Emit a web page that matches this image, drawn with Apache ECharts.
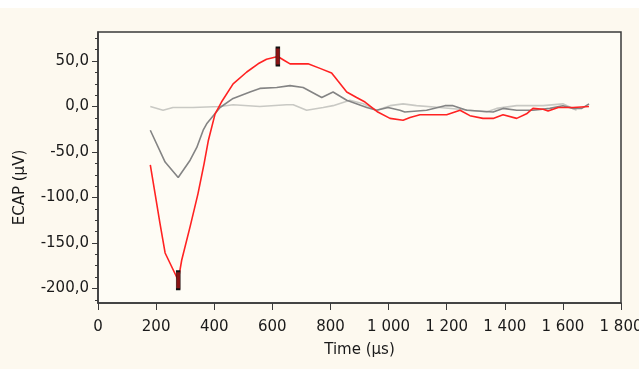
<!DOCTYPE html>
<html>
<head>
  <meta charset="utf-8" />
  <title>ECAP</title>
  <script src="https://cdn.jsdelivr.net/npm/echarts@6/dist/echarts.min.js"></script>
  <style>
    body { margin: 0; background: #ffffff; }
    #chart { position: absolute; left: 0; top: 8px; width: 639px; height: 361px; background: #fdf9ef; }
  </style>
</head>
<body>
  <div id="chart"></div>
  <script type="text/javascript">
    // Traces: [time (µs), ECAP (µV)]
    let redTrace = [[180, -64], [196, -95], [213, -128], [231, -161], [276, -191], [288, -169],
      [317, -132], [344, -96], [365, -63], [380, -37], [403, -8], [425, 5], [465, 25], [512, 38],
      [551, 47], [580, 52], [619, 55], [640, 51], [661, 47], [723, 47], [764, 42], [804, 37],
      [826, 28], [856, 16], [890, 10], [919, 5], [963, -6], [1005, -13], [1050, -15], [1074, -12],
      [1108, -9], [1200, -9], [1246, -4], [1280, -10], [1325, -13], [1360, -13], [1394, -9],
      [1441, -13], [1475, -8], [1497, -2], [1532, -3], [1549, -5], [1584, -1], [1635, -1], [1690, 0]];
    let darkTrace = [[180, -26], [231, -61], [276, -78], [317, -59], [340, -45], [362, -26],
      [374, -19], [420, -1], [465, 9], [523, 16], [557, 20], [615, 21], [661, 23], [706, 21],
      [770, 10], [809, 16], [856, 7], [925, -1], [959, -4], [998, -1], [1039, -4], [1056, -6],
      [1131, -4], [1194, 1], [1222, 1], [1269, -4], [1360, -6], [1394, -2], [1441, -4],
      [1497, -4], [1555, -2], [1600, 1], [1635, -2], [1665, -2], [1690, 3]];
    let lightTrace = [[180, 0], [224, -4], [258, -1], [327, -1], [420, 0], [465, 2], [557, 0],
      [649, 2], [672, 2], [718, -4], [775, -1], [809, 1], [867, 7], [913, 3], [959, -4],
      [1005, 1], [1050, 3], [1096, 1], [1177, -1], [1280, -4], [1337, -6], [1372, -2],
      [1441, 1], [1532, 1], [1600, 3], [1647, -4]];
    // Peak / trough markers on the red trace
    let markers = [[276, -191], [619, 55]];
    let yMajor = [-200, -150, -100, -50, 0, 50];
    let yMinor = [-212.5, -187.5, -175, -162.5, -137.5, -125, -112.5, -87.5, -75, -62.5,
      -37.5, -25, -12.5, 12.5, 25, 37.5, 62.5, 75];

    var chart = echarts.init(document.getElementById('chart'));
    var font = 'DejaVu Sans';

    var option = {
      animation: false,
      grid: {
        left: 98, top: 24, right: 18, bottom: 66,
        containLabel: false,
        outerBoundsMode: 'none',
        show: true,
        backgroundColor: '#fefcf5',
        borderColor: '#3a3a3a',
        borderWidth: 1.5
      },
      xAxis: {
        type: 'value',
        min: 0,
        max: 1800,
        interval: 200,
        name: 'Time (µs)',
        nameLocation: 'middle',
        nameGap: 40,
        nameTextStyle: { fontFamily: font, fontSize: 15, color: '#1a1a1a' },
        axisLine: { onZero: false, lineStyle: { color: '#3a3a3a', width: 1.5 } },
        axisTick: { length: 7, lineStyle: { color: '#3a3a3a' } },
        splitLine: { show: false },
        axisLabel: {
          fontFamily: font, fontSize: 15, color: '#1a1a1a', margin: 17,
          formatter: function (v) {
            return v >= 1000 ? Math.floor(v / 1000) + ' ' + String(v % 1000).padStart(3, '0') : String(v);
          }
        }
      },
      yAxis: [
        {
          type: 'value',
          min: -216,
          max: 82,
          name: 'ECAP (µV)',
          nameLocation: 'middle',
          nameRotate: 90,
          nameGap: 70,
          nameTextStyle: { fontFamily: font, fontSize: 15, color: '#1a1a1a', padding: [0, 40, 0, 0] },
          axisLine: { onZero: false, lineStyle: { color: '#3a3a3a', width: 1.5 } },
          axisTick: { length: 6, customValues: yMajor, lineStyle: { color: '#3a3a3a' } },
          splitLine: { show: false },
          axisLabel: {
            customValues: yMajor,
            fontFamily: font, fontSize: 15, color: '#1a1a1a', margin: 9,
            formatter: function (v) { return v.toFixed(1).replace('.', ','); }
          }
        },
        {
          type: 'value',
          min: -216,
          max: 82,
          position: 'left',
          axisLine: { show: false, onZero: false },
          axisTick: { length: 3, customValues: yMinor, lineStyle: { color: '#3a3a3a' } },
          axisLabel: { show: false },
          splitLine: { show: false }
        }
      ],
      series: [
        {
          name: 'light',
          type: 'line',
          data: lightTrace,
          showSymbol: false,
          lineStyle: { color: '#c9c9c4', width: 1.6 }
        },
        {
          name: 'dark',
          type: 'line',
          data: darkTrace,
          showSymbol: false,
          lineStyle: { color: '#848484', width: 1.6 }
        },
        {
          name: 'red',
          type: 'line',
          data: redTrace,
          showSymbol: false,
          lineStyle: { color: '#ff2222', width: 1.6 },
          markPoint: {
            symbol: 'rect',
            symbolSize: [4, 18],
            label: { show: false },
            itemStyle: { color: '#8a1414', borderColor: '#111111', borderWidth: 1 },
            data: markers.map(function (m) { return { coord: m }; })
          }
        }
      ]
    };

    chart.setOption(option);
  </script>
</body>
</html>
